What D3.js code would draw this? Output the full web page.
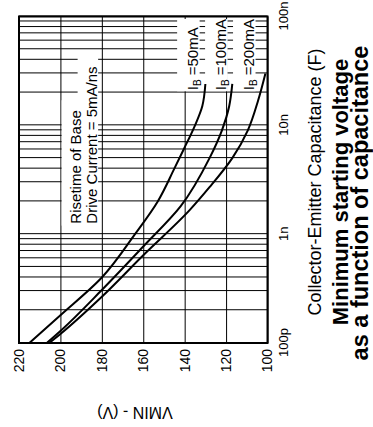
<!DOCTYPE html>
<html>
<head>
<meta charset="utf-8">
<script src="https://cdn.jsdelivr.net/npm/d3@7"></script>
<style>
  html, body { margin: 0; padding: 0; background: #fff; }
  svg { display: block; }
  text { font-family: "Liberation Sans", Arial, Helvetica, sans-serif; fill: #000; }
</style>
</head>
<body>
<svg id="chart" width="373" height="427"></svg>
<script>
// ---- data ----
const capTickValues = [1e-10, 1e-9, 1e-8, 1e-7];
const capTickLabels = ["100p", "1n", "10n", "100n"];
const voltTickValues = [100, 120, 140, 160, 180, 200, 220];

// IB = 50 mA
const cap50  = [1e-10, 1.8e-10, 4e-10, 1e-9, 2e-9, 4e-9, 6e-9, 1e-8, 1.5e-8, 2.4e-8];
const volt50 = [215, 200, 180, 164, 153, 145, 140.5, 135, 131.5, 130];
// IB = 100 mA
const cap100  = [1e-10, 1.29e-10, 3.07e-10, 7.7e-10, 1.8e-9, 5e-9, 9e-9, 1.5e-8, 2.4e-8];
const volt100 = [206.6, 200, 180, 160, 142, 128, 122, 118.5, 117];
// IB = 200 mA
const cap200  = [1e-10, 1.21e-10, 2.66e-10, 6.4e-10, 1.67e-9, 2.7e-9, 5e-9, 9e-9, 1.7e-8, 3e-8];
const volt200 = [205.4, 200, 180, 160, 137.5, 128, 117, 109.5, 104.5, 101];

const seriesCurrents = ["50mA", "100mA", "200mA"];
const noteLines = ["Risetime of Base", "Drive Current = 5mA/ns"];
const xTitle = "Collector-Emitter Capacitance (F)";
const yTitle = "VMIN - (V)";
const titleLines = ["Minimum starting voltage", "as a function of capacitance"];

// ---- layout (chart is drawn upright, then turned a quarter turn) ----
const W = 427, H = 373;
const plot = { left: 84, right: 410.5, top: 19, bottom: 267.5 };
const labelAnchor = { cap: 2.1e-8, volts: [133.5, 120, 106.5] };
const noteAnchor = { cap: 1.25e-9, volt: 190, lineGap: 16 };

const svg = d3.select("#chart");
const root = svg.append("g").attr("transform", `translate(0,${W}) rotate(-90)`);

const x = d3.scaleLog().domain([1e-10, 1e-7]).range([plot.left, plot.right]);
const y = d3.scaleLinear().domain([100, 220]).range([plot.bottom, plot.top]);

// grid: capacitance (log) lines
root.append("g")
  .attr("transform", `translate(0,${plot.bottom})`)
  .call(d3.axisBottom(x).tickValues(x.ticks()).tickSize(-(plot.bottom - plot.top)).tickFormat(""))
  .call(g => g.select(".domain").remove())
  .selectAll("line").attr("stroke", "#000").attr("stroke-width", 1);

// grid: voltage lines
root.append("g")
  .attr("transform", `translate(${plot.left},0)`)
  .call(d3.axisLeft(y).tickValues(voltTickValues).tickSize(-(plot.right - plot.left)).tickFormat(""))
  .call(g => g.select(".domain").remove())
  .selectAll("line").attr("stroke", "#000").attr("stroke-width", 1);

// annotation with white backing (all backings first, then the words)
const noteBack = root.append("g");
const noteText = root.append("g");
noteLines.forEach((t, i) => {
  const bx = x(noteAnchor.cap), by = y(noteAnchor.volt) + i * noteAnchor.lineGap;
  const txt = noteText.append("text").attr("x", bx).attr("y", by)
    .attr("font-size", 15).text(t);
  const len = txt.node().getComputedTextLength();
  noteBack.append("rect").attr("fill", "#fff")
    .attr("x", bx - 2).attr("y", by - 19.5).attr("width", len + 12).attr("height", 20.5);
});

// curve labels with white backing
const labelBack = root.append("g");
const labelText = root.append("g");
seriesCurrents.forEach((c, i) => {
  const bx = x(labelAnchor.cap), by = y(labelAnchor.volts[i]);
  labelBack.append("rect").attr("fill", "#fff")
    .attr("x", bx - 1).attr("y", by - 21)
    .attr("width", plot.right - 2.5 - (bx - 1)).attr("height", 22.5);
  const t = labelText.append("text").attr("x", bx).attr("y", by).attr("font-size", 15);
  t.append("tspan").text("I");
  t.append("tspan").attr("font-size", 10).attr("dy", 3).text("B");
  t.append("tspan").attr("dy", -3).text(" =" + c);
});

// curves
const line = d3.line()
  .x(d => x(d[0])).y(d => y(d[1]))
  .curve(d3.curveMonotoneX);
[[cap50, volt50], [cap100, volt100], [cap200, volt200]].forEach(([cs, vs]) => {
  root.append("path")
    .datum(cs.map((c, i) => [c, vs[i]]))
    .attr("fill", "none").attr("stroke", "#000").attr("stroke-width", 2)
    .attr("d", line);
});

// frame
root.append("rect")
  .attr("x", plot.left).attr("y", plot.top)
  .attr("width", plot.right - plot.left).attr("height", plot.bottom - plot.top)
  .attr("fill", "none").attr("stroke", "#000").attr("stroke-width", 2);

// capacitance tick labels
root.append("g")
  .attr("transform", `translate(0,${plot.bottom})`)
  .call(d3.axisBottom(x).tickValues(capTickValues).tickSize(0).tickPadding(11)
    .tickFormat((d, i) => capTickLabels[i]))
  .call(g => g.select(".domain").remove())
  .selectAll("text").attr("font-size", 13).attr("font-family", null).attr("fill", "#000");

// voltage tick labels
root.append("g")
  .attr("transform", `translate(${plot.left},0)`)
  .call(d3.axisLeft(y).tickValues(voltTickValues).tickSize(0).tickPadding(6))
  .call(g => g.select(".domain").remove())
  .selectAll("text").attr("font-size", 14).attr("font-family", null).attr("fill", "#000");

// axis titles
root.append("text")
  .attr("transform", `translate(20,135) rotate(-90)`)
  .attr("text-anchor", "middle").attr("font-size", 16).text(yTitle);

root.append("text")
  .attr("x", 245).attr("y", 321)
  .attr("text-anchor", "middle").attr("font-size", 18).text(xTitle);

// chart title
root.append("text")
  .attr("x", 235).attr("y", 348)
  .attr("text-anchor", "middle").attr("font-size", 22).attr("font-weight", "bold").text(titleLines[0]);
root.append("text")
  .attr("x", 224).attr("y", 368)
  .attr("text-anchor", "middle").attr("font-size", 23.5).attr("font-weight", "bold").text(titleLines[1]);
</script>
</body>
</html>
